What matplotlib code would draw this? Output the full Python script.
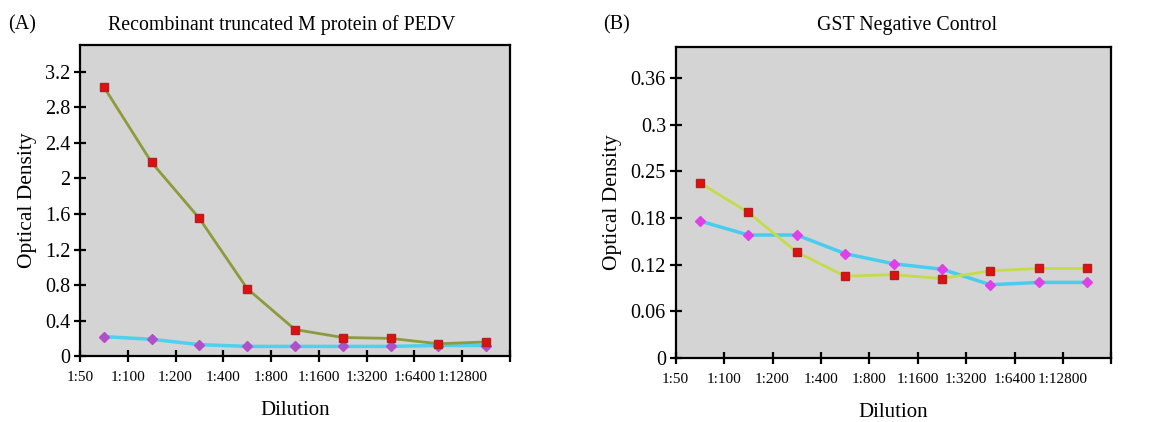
import matplotlib
matplotlib.use("Agg")
import matplotlib.pyplot as plt
from matplotlib.ticker import FixedLocator, NullFormatter

plt.rcParams["font.family"] = ["Liberation Serif", "DejaVu Serif"]

dilutions = ["1:50", "1:100", "1:200", "1:400", "1:800", "1:1600", "1:3200", "1:6400", "1:12800"]

# panel A: recombinant truncated M protein
a_positive = [3.03, 2.18, 1.55, 0.76, 0.30, 0.21, 0.20, 0.14, 0.16]
a_negative = [0.22, 0.19, 0.13, 0.11, 0.11, 0.11, 0.11, 0.12, 0.12]

# panel B: GST negative control
b_positive = [0.225, 0.187, 0.136, 0.105, 0.107, 0.102, 0.112, 0.115, 0.115]
b_negative = [0.176, 0.158, 0.158, 0.134, 0.121, 0.114, 0.094, 0.097, 0.097]

a_yticks = [0, 0.4, 0.8, 1.2, 1.6, 2, 2.4, 2.8, 3.2]
a_ylabels = ["0", "0.4", "0.8", "1.2", "1.6", "2", "2.4", "2.8", "3.2"]
b_yticks = [0, 0.06, 0.12, 0.18, 0.24, 0.30, 0.36]
b_ylabels = ["0", "0.06", "0.12", "0.18", "0.25", "0.3", "0.36"]


def draw_panel(ax, pos, neg, yticks, ylabels, ymax, line1, line2, mk2):
    x = list(range(len(pos)))
    ax.set_facecolor("#d4d4d4")
    ax.plot(x, pos, color=line1, lw=2, marker="s", ms=6,
            mfc="#e01010", mec="#b02020", zorder=3)
    ax.plot(x, neg, color=line2, lw=2.5, marker="D", ms=5.5,
            mfc=mk2, mec=mk2, zorder=2)
    ax.set_xlim(-0.5, len(pos) - 0.5)
    ax.set_ylim(0, ymax)
    ax.set_yticks(yticks)
    ax.set_yticklabels(ylabels, fontsize=14.5)
    bounds = [i - 0.5 for i in range(len(pos) + 1)]
    ax.xaxis.set_major_locator(FixedLocator(bounds))
    ax.xaxis.set_major_formatter(NullFormatter())
    for b, lab in zip(bounds, dilutions):
        ax.annotate(lab, (b, 0), xycoords=("data", "axes fraction"),
                    xytext=(0, -11), textcoords="offset points",
                    ha="center", va="top", fontsize=11)
    ax.tick_params(axis="both", direction="inout", length=8, width=1.6, color="black")
    ax.tick_params(axis="y", pad=3)
    for s in ax.spines.values():
        s.set_linewidth(1.6)
        s.set_color("black")
    ax.set_xlabel("Dilution", fontsize=15, labelpad=25)
    ax.set_ylabel("Optical Density", fontsize=15.5, labelpad=6)


fig = plt.figure(figsize=(11.59, 4.22), dpi=100)
ax1 = fig.add_axes([0.069, 0.156, 0.371, 0.737])
ax2 = fig.add_axes([0.583, 0.152, 0.376, 0.737])

draw_panel(ax1, a_positive, a_negative, a_yticks, a_ylabels, 3.5,
           "#8e9a3c", "#4fd0ee", "#b050c8")
draw_panel(ax2, b_positive, b_negative, b_yticks, b_ylabels, 0.40,
           "#c4dc4a", "#48ccf0", "#e040e8")

fig.text(0.007, 0.94, "(A)", fontsize=14.5, ha="left", va="center")
fig.text(0.243, 0.94, "Recombinant truncated M protein of PEDV", fontsize=14.3, ha="center", va="center")
fig.text(0.520, 0.94, "(B)", fontsize=14.5, ha="left", va="center")
fig.text(0.783, 0.94, "GST Negative Control", fontsize=14.3, ha="center", va="center")

fig.savefig("out.png", dpi=100)
